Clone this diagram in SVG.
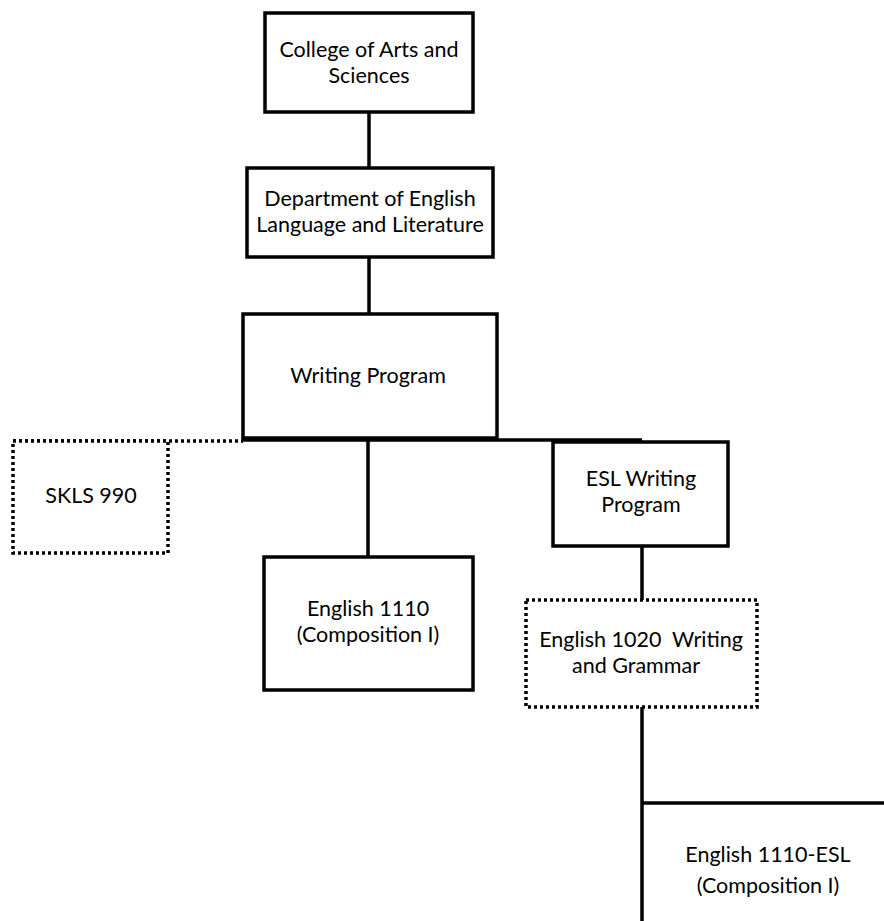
<svg xmlns="http://www.w3.org/2000/svg" width="884" height="921" viewBox="0 0 884 921">
<style>
.box{fill:#fff;stroke:#000;stroke-width:3.5}
.dot{fill:#fff;stroke:#000;stroke-width:3.5;stroke-dasharray:3 3}
.ln{stroke:#000;stroke-width:3.5;fill:none}
.dl{stroke:#000;stroke-width:3.5;fill:none;stroke-dasharray:3 3}
text{font-family:Lato,"Open Sans",sans-serif;font-size:21.5px;fill:#000;text-anchor:middle}
</style>
<rect width="884" height="921" fill="#fff"/>
<g id="connectors">
<line class="ln" x1="369" y1="112" x2="369" y2="168"/>
<line class="ln" x1="369" y1="257" x2="369" y2="314"/>
<line class="dl" x1="13" y1="441" x2="243" y2="441"/>
<line class="ln" x1="243" y1="440" x2="642" y2="440"/>
<line class="ln" x1="368" y1="440" x2="368" y2="557"/>
<line class="ln" x1="642" y1="546" x2="642" y2="600"/>
<line class="ln" x1="642" y1="707" x2="642" y2="921"/>
<line class="ln" x1="642" y1="803" x2="884" y2="803"/>
</g>
<g id="college">
<rect class="box" x="265" y="13" width="208" height="99"/>
<text x="369" y="57">College of Arts and</text>
<text x="369" y="83">Sciences</text>
</g>
<g id="department">
<rect class="box" x="247" y="168" width="246" height="89"/>
<text x="370" y="206">Department of English</text>
<text x="370" y="232">Language and Literature</text>
</g>
<g id="writing">
<rect class="box" x="243" y="314" width="254" height="124"/>
<text x="368" y="383">Writing Program</text>
</g>
<g id="skls">
<rect class="dot" x="13" y="441" width="155" height="112"/>
<text x="91" y="503">SKLS 990</text>
</g>
<g id="esl">
<rect class="box" x="553" y="442" width="175" height="104"/>
<text x="641" y="486">ESL Writing</text>
<text x="641" y="512">Program</text>
</g>
<g id="eng1110">
<rect class="box" x="264" y="557" width="209" height="133"/>
<text x="368" y="616">English 1110</text>
<text x="368" y="642">(Composition I)</text>
</g>
<g id="eng1020">
<rect class="dot" x="526" y="600" width="231" height="107"/>
<text x="641" y="647" xml:space="preserve">English 1020  Writing</text>
<text x="636" y="673">and Grammar</text>
</g>
<g id="eng1110esl">
<text x="768" y="862">English 1110-ESL</text>
<text x="768" y="893">(Composition I)</text>
</g>
</svg>
